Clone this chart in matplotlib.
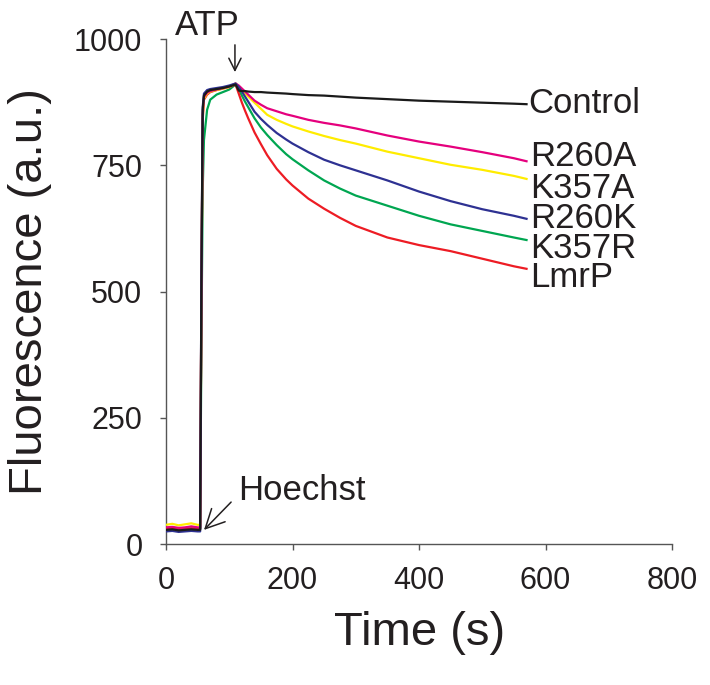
import numpy as np
import matplotlib
matplotlib.use("Agg")
import matplotlib.pyplot as plt

plt.rcParams['font.family'] = ['Liberation Sans', 'DejaVu Sans']

# -------------------------------
# Time points (s) and fluorescence traces
t = [0, 10, 20, 30, 40, 50, 54, 56, 58, 60, 65, 70, 80, 90, 100, 110,
     115, 120, 125, 130, 140, 150, 160, 175, 190, 200, 225, 250, 275, 300,
     350, 400, 450, 500, 550, 570]

control = [28, 29, 27, 28, 29, 28, 28, 520, 860, 888, 896, 899, 901, 903, 906, 910,
           898, 897, 897, 896, 895, 895, 894, 893, 892, 891, 889, 888, 886, 884,
           881, 878, 876, 874, 872, 871]
r260a = [33, 34, 32, 33, 35, 33, 33, 510, 850, 885, 894, 897, 900, 903, 906, 912,
         908, 902, 896, 890, 878, 870, 863, 857, 851, 848, 840, 834, 829, 823,
         809, 797, 787, 776, 764, 758]
k357a = [38, 40, 37, 39, 41, 38, 38, 500, 845, 882, 892, 896, 899, 902, 905, 912,
         906, 900, 893, 886, 874, 862, 850, 840, 832, 827, 817, 808, 800, 793,
         777, 764, 751, 741, 729, 723]
r260k = [25, 26, 24, 25, 26, 25, 25, 530, 865, 892, 899, 901, 903, 905, 908, 912,
         905, 896, 886, 876, 856, 842, 830, 814, 801, 793, 776, 761, 750, 740,
         720, 698, 679, 663, 650, 644]
k357r = [30, 31, 29, 30, 31, 30, 30, 400, 700, 800, 860, 880, 890, 895, 900, 910,
         900, 888, 876, 865, 843, 825, 810, 790, 772, 762, 740, 720, 704, 690,
         670, 650, 633, 620, 607, 602]
lmrp = [30, 31, 30, 29, 31, 30, 30, 490, 840, 880, 890, 895, 899, 902, 905, 910,
        892, 874, 858, 843, 815, 792, 770, 743, 722, 710, 684, 664, 646, 630,
        607, 592, 580, 565, 550, 545]

names = ["Control", "R260A", "K357A", "R260K", "K357R", "LmrP"]
series = [control, r260a, k357a, r260k, k357r, lmrp]
colors = ["#1a1a1a", "#e5007d", "#ffec00", "#2e3192", "#00a651", "#ed1c24"]
label_y = [873, 767, 705, 645, 586, 527]

# -------------------------------
fig = plt.figure(figsize=(7.1, 6.85), dpi=100)
ax = fig.add_axes([0.2338, 0.2058, 0.7127, 0.7372])

txt = "#231f20"
z_order = {"K357R": 2, "LmrP": 3, "K357A": 4, "R260A": 5, "R260K": 6, "Control": 7}
for name, y, c in zip(names, series, colors):
    ax.plot(t, y, color=c, lw=1.6, zorder=z_order[name])

for name, ly in zip(names, label_y):
    x0 = 572 if name == "Control" else 576
    ax.text(x0, ly, name, fontsize=25, color=txt, ha="left", va="center")

# ATP and Hoechst annotations
ax.text(66, 1008, "ATP", fontsize=25, color=txt, ha="center", va="baseline", clip_on=False)
ax.annotate("", xy=(109, 929), xytext=(109, 994),
            arrowprops=dict(arrowstyle="->", lw=1.1, color=txt, mutation_scale=22),
            annotation_clip=False)
ax.text(114, 87, "Hoechst", fontsize=25, color=txt, ha="left", va="baseline")
ax.annotate("", xy=(57, 24), xytext=(106, 87),
            arrowprops=dict(arrowstyle="->", lw=1.1, color=txt, mutation_scale=34))

ax.set_xlim(0, 800)
ax.set_ylim(0, 1000)
ax.set_xticks([0, 200, 400, 600, 800])
ax.set_yticks([0, 250, 500, 750, 1000])

for s in ["top", "right"]:
    ax.spines[s].set_visible(False)
for s in ["left", "bottom"]:
    ax.spines[s].set_color("#555555")
    ax.spines[s].set_linewidth(1.0)

ax.tick_params(axis="both", direction="out", length=4, width=1.0, color="#555555",
               labelsize=22, labelcolor=txt)
ax.tick_params(axis="x", pad=12)
ax.tick_params(axis="y", pad=13)

ax.set_xlabel("Time (s)", fontsize=34, color=txt, va="center")
ax.xaxis.set_label_coords(0.502, -0.176)
ax.set_ylabel("Fluorescence (a.u.)", fontsize=34, color=txt, va="center")
ax.yaxis.set_label_coords(-0.269, 0.5)

plt.savefig("out.png", dpi=100)
